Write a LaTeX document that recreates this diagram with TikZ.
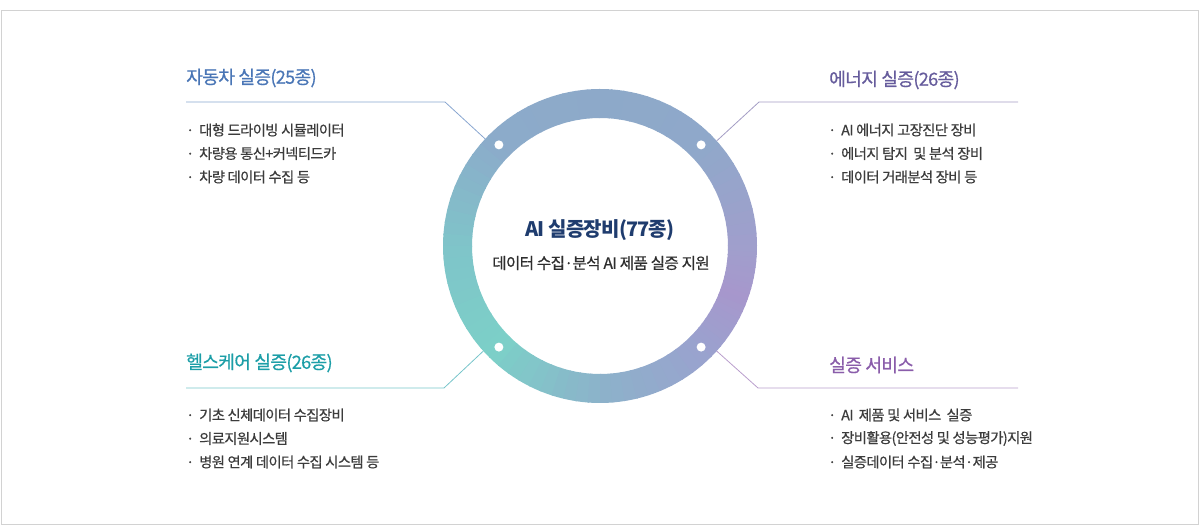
\documentclass[tikz,border=0pt]{standalone}
\usepackage{fontspec}
\setmainfont{Noto Sans CJK KR}[LetterSpace=-4]
\newfontfamily\krmed{Noto Sans CJK KR}[LetterSpace=-4, FakeBold=0.6]
\usepackage{tikz}
\usepackage{xcolor}
\definecolor{FrameGray}{HTML}{D2D2D2}
\definecolor{TextGray}{HTML}{3C3C3C}
\definecolor{CoreNavy}{HTML}{1F3C6E}
\definecolor{AutoBlue}{HTML}{4A76B6}
\definecolor{EnergyPurple}{HTML}{665C9C}
\definecolor{HealthTeal}{HTML}{1C9EA7}
\definecolor{ServicePurple}{HTML}{8A5DAA}
\definecolor{RingA}{HTML}{A09FCC}
\definecolor{RingB}{HTML}{8FA8CA}
\definecolor{RingC}{HTML}{8DA9C9}
\definecolor{RingD}{HTML}{8CABCA}
\definecolor{RingE}{HTML}{7FC4C9}
\definecolor{RingF}{HTML}{7CD0C8}
\definecolor{RingG}{HTML}{8CB2CA}
\definecolor{RingH}{HTML}{9AA2CE}
\definecolor{RingI}{HTML}{A797CC}

\tikzset{
  title/.style={anchor=west, inner sep=0pt, font=\krmed\fontsize{18.2}{21}\selectfont},
  item/.style={anchor=west, inner sep=0pt, text=TextGray, font=\krmed\fontsize{14.3}{17}\selectfont},
  link/.style={line width=0.8pt}
}

\begin{document}
\begin{tikzpicture}[x=1pt, y=1pt]
  \useasboundingbox (0,0) rectangle (1200,529);

  % Frame
  \draw[FrameGray, line width=1pt] (1,4) rectangle (1198,518);

  % Ring
  \coordinate (ring) at (600,283);
  \begin{scope}[shift={(ring)}]
    \foreach \sa/\ea/\ca/\cb in {0/45/RingA/RingB, 45/90/RingB/RingC, 90/135/RingC/RingD,
        135/180/RingD/RingE, 180/225/RingE/RingF, 225/270/RingF/RingG,
        270/315/RingG/RingH, 315/340/RingH/RingI, 340/360/RingI/RingA}{
      \foreach \i in {0,...,9}{
        \pgfmathsetmacro\t{\sa+(\ea-\sa)*\i/10}
        \pgfmathsetmacro\u{\sa+(\ea-\sa)*(\i+1)/10+0.5}
        \pgfmathtruncatemacro\p{100-100*(\i+0.5)/10}
        \fill[\ca!\p!\cb] (\t:157) arc[start angle=\t, end angle=\u, radius=157]
          -- (\u:128) arc[start angle=\u, end angle=\t, radius=128] -- cycle;
      }
    }
    % dots on the ring
    \foreach \a in {45,135,225,315}
      \fill[white] (\a:143) circle (4.5);
  \end{scope}

  % Centre
  \node[inner sep=0pt, text=CoreNavy, font=\fontsize{20}{24}\selectfont\bfseries] (core) at (600,299) {AI 실증장비(77종)};
  \node[inner sep=0pt, text=black!82, font=\krmed\fontsize{15.6}{19}\selectfont] (coreSub) at (601,266) {데이터 수집·분석 AI 제품 실증 지원};

  % Connectors
  \coordinate (autoEnd) at (186,427);    \coordinate (autoKnee) at (445,427);
  \coordinate (energyEnd) at (1018,427); \coordinate (energyKnee) at (759,427);
  \coordinate (healthEnd) at (186,141);  \coordinate (healthKnee) at (444,141);
  \coordinate (serviceEnd) at (1018,141);\coordinate (serviceKnee) at (758,141);
  \draw[link, AutoBlue!65] (autoEnd) -- (autoKnee) -- ([shift={(137:157)}]ring);
  \draw[link, EnergyPurple!60] (energyEnd) -- (energyKnee) -- ([shift={(42:157)}]ring);
  \draw[link, HealthTeal!60] (healthEnd) -- (healthKnee) -- ([shift={(222:157)}]ring);
  \draw[link, ServicePurple!60] (serviceEnd) -- (serviceKnee) -- ([shift={(318:157)}]ring);

  % Automotive
  \node[title, text=AutoBlue] (autoTitle) at (186,451) {자동차 실증(25종)};
  \node[item] (auto1) at (186,399) {·\hspace{5pt}대형 드라이빙 시뮬레이터};
  \node[item] (auto2) at (186,375.5) {·\hspace{5pt}차량용 통신+커넥티드카};
  \node[item] (auto3) at (186,352) {·\hspace{5pt}차량 데이터 수집 등};

  % Energy
  \node[title, text=EnergyPurple] (energyTitle) at (829,449) {에너지 실증(26종)};
  \node[item] (energy1) at (828,399) {·\hspace{5pt}AI 에너지 고장진단 장비};
  \node[item] (energy2) at (828,375.5) {·\hspace{5pt}에너지 탐지 \ 및 분석 장비};
  \node[item] (energy3) at (828,352) {·\hspace{5pt}데이터 거래분석 장비 등};

  % Healthcare
  \node[title, text=HealthTeal] (healthTitle) at (186,166) {헬스케어 실증(26종)};
  \node[item] (health1) at (186,114) {·\hspace{5pt}기초 신체데이터 수집장비};
  \node[item] (health2) at (186,90.5) {·\hspace{5pt}의료지원시스템};
  \node[item] (health3) at (186,67) {·\hspace{5pt}병원 연계 데이터 수집 시스템 등};

  % Service
  \node[title, text=ServicePurple] (serviceTitle) at (829,164) {실증 서비스};
  \node[item] (service1) at (828,114) {·\hspace{5pt}AI \ 제품 및 서비스 \ 실증};
  \node[item] (service2) at (828,90.5) {·\hspace{5pt}장비활용(안전성 및 성능평가)지원};
  \node[item] (service3) at (828,67) {·\hspace{5pt}실증데이터 수집·분석·제공};
\end{tikzpicture}
\end{document}
